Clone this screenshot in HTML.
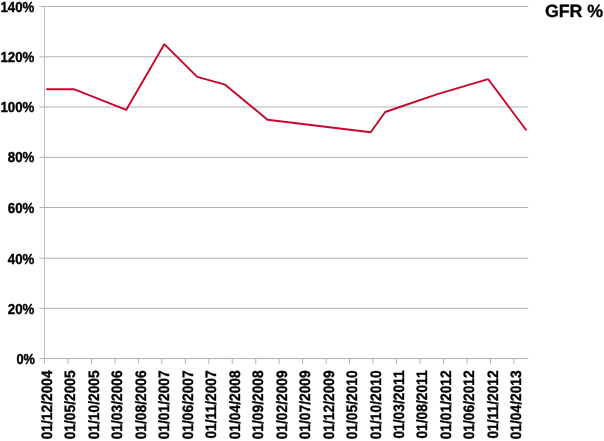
<!DOCTYPE html>
<html lang="en">
<head>
<meta charset="utf-8">
<title>GFR %</title>
<style>
html,body{margin:0;padding:0;background:#fff;}
body{width:604px;height:441px;overflow:hidden;}
svg{display:block;}
text{font-family:"Liberation Sans",sans-serif;font-weight:bold;fill:#000;stroke:#000;stroke-width:0.38px;stroke-linejoin:round;text-rendering:geometricPrecision;}
.yl{font-size:14.5px;text-anchor:end;}
.xl{font-size:15px;text-anchor:end;}
.lg{font-size:17.8px;stroke-width:0.3px;}
.g{stroke:#a3b2b1;stroke-width:0.95;fill:none;}
</style>
</head>
<body>
<svg width="604" height="441" viewBox="0 0 604 441">
<rect width="604" height="441" fill="#fff"/>

<line class="g" x1="39.5" y1="358.60" x2="528.3" y2="358.60"/>
<line class="g" x1="39.5" y1="308.33" x2="528.3" y2="308.33"/>
<line class="g" x1="39.5" y1="258.20" x2="528.3" y2="258.20"/>
<line class="g" x1="39.5" y1="207.50" x2="528.3" y2="207.50"/>
<line class="g" x1="39.5" y1="157.37" x2="528.3" y2="157.37"/>
<line class="g" x1="39.5" y1="107.00" x2="528.3" y2="107.00"/>
<line class="g" x1="39.5" y1="56.78" x2="528.3" y2="56.78"/>
<line class="g" x1="39.5" y1="6.45" x2="528.3" y2="6.45"/>
<line class="g" style="stroke:#afbdbc" x1="44.5" y1="5.95" x2="44.5" y2="363.90"/>
<line class="g" x1="67.97" y1="358.60" x2="67.97" y2="363.90"/>
<line class="g" x1="91.44" y1="358.60" x2="91.44" y2="363.90"/>
<line class="g" x1="114.91" y1="358.60" x2="114.91" y2="363.90"/>
<line class="g" x1="138.38" y1="358.60" x2="138.38" y2="363.90"/>
<line class="g" x1="161.85" y1="358.60" x2="161.85" y2="363.90"/>
<line class="g" x1="185.32" y1="358.60" x2="185.32" y2="363.90"/>
<line class="g" x1="208.79" y1="358.60" x2="208.79" y2="363.90"/>
<line class="g" x1="232.26" y1="358.60" x2="232.26" y2="363.90"/>
<line class="g" x1="255.73" y1="358.60" x2="255.73" y2="363.90"/>
<line class="g" x1="279.20" y1="358.60" x2="279.20" y2="363.90"/>
<line class="g" x1="302.67" y1="358.60" x2="302.67" y2="363.90"/>
<line class="g" x1="326.14" y1="358.60" x2="326.14" y2="363.90"/>
<line class="g" x1="349.61" y1="358.60" x2="349.61" y2="363.90"/>
<line class="g" x1="373.08" y1="358.60" x2="373.08" y2="363.90"/>
<line class="g" x1="396.55" y1="358.60" x2="396.55" y2="363.90"/>
<line class="g" x1="420.02" y1="358.60" x2="420.02" y2="363.90"/>
<line class="g" x1="443.49" y1="358.60" x2="443.49" y2="363.90"/>
<line class="g" x1="466.96" y1="358.60" x2="466.96" y2="363.90"/>
<line class="g" x1="490.43" y1="358.60" x2="490.43" y2="363.90"/>
<line class="g" x1="513.90" y1="358.60" x2="513.90" y2="363.90"/>
<text class="yl" transform="translate(34.95,364.00) scale(0.885,1)">0%</text>
<text class="yl" transform="translate(34.40,314.05) scale(0.915,1)">20%</text>
<text class="yl" transform="translate(34.40,263.50) scale(0.915,1)">40%</text>
<text class="yl" transform="translate(34.40,213.10) scale(0.915,1)">60%</text>
<text class="yl" transform="translate(34.40,162.30) scale(0.915,1)">80%</text>
<text class="yl" transform="translate(34.40,112.05) scale(0.915,1)">100%</text>
<text class="yl" transform="translate(34.40,62.00) scale(0.915,1)">120%</text>
<text class="yl" transform="translate(34.40,12.00) scale(0.915,1)">140%</text>
<text class="xl" transform="translate(51.95,370.3) rotate(-90) scale(0.92,1)">01/12/2004</text>
<text class="xl" transform="translate(75.42,370.3) rotate(-90) scale(0.92,1)">01/05/2005</text>
<text class="xl" transform="translate(98.89,370.3) rotate(-90) scale(0.92,1)">01/10/2005</text>
<text class="xl" transform="translate(122.36,370.3) rotate(-90) scale(0.92,1)">01/03/2006</text>
<text class="xl" transform="translate(145.83,370.3) rotate(-90) scale(0.92,1)">01/08/2006</text>
<text class="xl" transform="translate(169.30,370.3) rotate(-90) scale(0.92,1)">01/01/2007</text>
<text class="xl" transform="translate(192.77,370.3) rotate(-90) scale(0.92,1)">01/06/2007</text>
<text class="xl" transform="translate(216.24,370.3) rotate(-90) scale(0.92,1)">01/11/2007</text>
<text class="xl" transform="translate(239.71,370.3) rotate(-90) scale(0.92,1)">01/04/2008</text>
<text class="xl" transform="translate(263.18,370.3) rotate(-90) scale(0.92,1)">01/09/2008</text>
<text class="xl" transform="translate(286.65,370.3) rotate(-90) scale(0.92,1)">01/02/2009</text>
<text class="xl" transform="translate(310.12,370.3) rotate(-90) scale(0.92,1)">01/07/2009</text>
<text class="xl" transform="translate(333.59,370.3) rotate(-90) scale(0.92,1)">01/12/2009</text>
<text class="xl" transform="translate(357.06,370.3) rotate(-90) scale(0.92,1)">01/05/2010</text>
<text class="xl" transform="translate(380.53,370.3) rotate(-90) scale(0.92,1)">01/10/2010</text>
<text class="xl" transform="translate(404.00,370.3) rotate(-90) scale(0.92,1)">01/03/2011</text>
<text class="xl" transform="translate(427.47,370.3) rotate(-90) scale(0.92,1)">01/08/2011</text>
<text class="xl" transform="translate(450.94,370.3) rotate(-90) scale(0.92,1)">01/01/2012</text>
<text class="xl" transform="translate(474.41,370.3) rotate(-90) scale(0.92,1)">01/06/2012</text>
<text class="xl" transform="translate(497.88,370.3) rotate(-90) scale(0.92,1)">01/11/2012</text>
<text class="xl" transform="translate(521.35,370.3) rotate(-90) scale(0.92,1)">01/04/2013</text>
<polyline points="47.0,89.3 74.4,89.3 126.3,109.8 164.3,44.2 197.2,76.9 225.2,84.7 267.5,119.7 370.7,132.2 385.2,112.0 437.5,94.2 488.2,79.2 525.9,129.8" fill="none" stroke="#c8052d" stroke-width="1.9" stroke-linejoin="round" stroke-linecap="round"/>
<text class="lg" transform="translate(544.9,17.45)">GFR %</text>
</svg>
</body>
</html>
